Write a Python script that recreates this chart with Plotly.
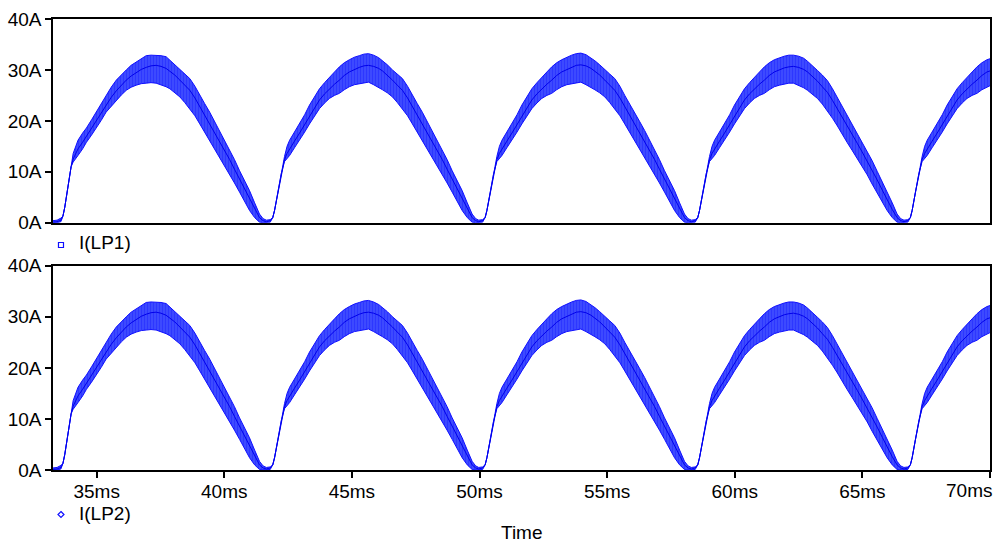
import plotly.graph_objects as go
from plotly.subplots import make_subplots

# ---------------- data ----------------
# time in ms, current envelopes in A (upper / lower edge of the switching ripple band, and mean)
time_c0 = [33.29, 33.45, 33.60, 33.68, 33.75, 33.88, 34.00, 34.08, 34.17, 34.27, 34.45, 34.60, 34.80, 34.98,
           35.18, 35.37, 35.57, 35.77, 35.97, 36.16, 36.35, 36.55, 36.75, 36.94, 37.13, 37.33, 37.52, 37.72,
           37.87, 38.06, 38.26, 38.45, 38.65, 38.85, 39.04, 39.23, 39.43, 39.62, 39.82, 40.01, 40.21, 40.40,
           40.60, 40.80, 40.99, 41.19, 41.38, 41.52]
upper_c0 = [0.4, 0.5, 0.9, 1.3, 3.0, 7.6, 11.0, 13.6, 15.0, 16.2, 17.6, 18.6, 20.2, 21.7, 23.4, 25.0, 26.6,
            28.0, 29.1, 30.0, 30.9, 31.6, 32.3, 32.8, 32.9, 32.9, 32.8, 32.6, 31.9, 31.0, 30.0, 29.2, 28.3,
            26.8, 25.0, 23.4, 21.7, 19.9, 18.1, 16.3, 14.5, 12.4, 10.2, 8.2, 6.3, 3.9, 1.7, 0.8]
lower_c0 = [0.0, 0.0, 0.2, 1.3, 3.0, 7.6, 11.0, 11.9, 12.6, 13.2, 14.5, 15.8, 17.2, 18.5, 20.1, 21.7, 22.9,
            24.0, 25.1, 26.0, 26.6, 27.0, 27.3, 27.4, 27.5, 27.4, 27.1, 26.7, 26.3, 25.5, 24.7, 23.6, 22.4,
            21.0, 19.4, 17.8, 16.2, 14.6, 12.9, 11.3, 9.6, 7.8, 6.0, 4.1, 2.4, 1.0, 0.1, 0.0]
mean_c0 = [0.1, 0.2, 0.5, 1.3, 3.0, 7.6, 11.0, 12.5, 13.6, 14.5, 15.8, 17.0, 18.5, 19.9, 21.6, 23.2, 24.6,
           25.9, 27.0, 28.0, 28.8, 29.5, 30.1, 30.5, 30.8, 30.9, 30.7, 30.3, 29.8, 29.0, 28.0, 27.0, 26.0,
           24.5, 22.8, 21.2, 19.5, 17.8, 16.0, 14.2, 12.4, 10.5, 8.5, 6.5, 4.6, 2.6, 1.0, 0.4]

time_c1 = [41.65, 41.80, 41.90, 41.97, 42.10, 42.23, 42.36, 42.46, 42.56, 42.75, 42.95, 43.15, 43.34, 43.54,
           43.73, 43.93, 44.12, 44.32, 44.51, 44.70, 44.90, 45.10, 45.29, 45.47, 45.65, 45.85, 46.05, 46.20,
           46.39, 46.59, 46.78, 46.98, 47.18, 47.37, 47.56, 47.76, 47.95, 48.15, 48.34, 48.54, 48.73, 48.93,
           49.13, 49.32, 49.52, 49.71, 49.85]
upper_c1 = [0.5, 0.6, 1.0, 2.4, 6.0, 9.6, 13.0, 15.0, 16.2, 17.8, 19.4, 21.2, 23.1, 24.7, 26.3, 27.5, 28.6,
            29.6, 30.6, 31.4, 32.0, 32.5, 32.8, 33.1, 33.2, 32.9, 32.4, 31.8, 31.0, 30.0, 29.2, 28.3, 26.8,
            25.0, 23.4, 21.7, 19.9, 18.1, 16.3, 14.5, 12.4, 10.2, 8.2, 6.3, 3.9, 1.7, 0.8]
lower_c1 = [0.0, 0.1, 1.0, 2.4, 6.0, 9.6, 12.0, 12.6, 13.2, 14.7, 16.2, 17.8, 19.4, 20.9, 22.4, 23.5, 24.4,
            25.0, 25.4, 26.1, 26.7, 27.1, 27.3, 27.5, 27.6, 27.1, 26.6, 26.1, 25.5, 24.7, 23.6, 22.4, 21.0,
            19.4, 17.8, 16.2, 14.6, 12.9, 11.3, 9.6, 7.8, 6.0, 4.1, 2.4, 1.0, 0.1, 0.0]
mean_c1 = [0.2, 0.4, 1.0, 2.4, 6.0, 9.6, 12.4, 13.6, 14.5, 16.0, 17.6, 19.3, 21.0, 22.6, 24.1, 25.3, 26.3,
           27.2, 28.0, 28.9, 29.6, 30.1, 30.5, 30.8, 30.9, 30.7, 30.3, 29.8, 29.0, 28.0, 27.0, 26.0, 24.5,
           22.8, 21.2, 19.5, 17.8, 16.0, 14.2, 12.4, 10.5, 8.5, 6.5, 4.6, 2.6, 1.0, 0.4]

time_c2 = [49.97, 50.12, 50.22, 50.29, 50.42, 50.55, 50.68, 50.78, 50.88, 51.07, 51.27, 51.47, 51.66, 51.86,
           52.05, 52.25, 52.44, 52.64, 52.83, 53.02, 53.22, 53.42, 53.61, 53.79, 53.97, 54.17, 54.37, 54.52,
           54.71, 54.91, 55.10, 55.30, 55.50, 55.69, 55.88, 56.08, 56.27, 56.47, 56.66, 56.86, 57.05, 57.25,
           57.45, 57.64, 57.84, 58.03, 58.17]
upper_c2 = [0.5, 0.6, 1.0, 2.4, 6.0, 9.6, 13.0, 15.0, 16.2, 17.8, 19.4, 21.2, 23.1, 24.7, 26.3, 27.5, 28.6,
            29.6, 30.6, 31.4, 32.0, 32.5, 32.9, 33.2, 33.3, 33.0, 32.4, 31.8, 31.0, 30.0, 29.2, 28.3, 26.8,
            25.0, 23.4, 21.7, 19.9, 18.1, 16.3, 14.5, 12.4, 10.2, 8.2, 6.3, 3.9, 1.7, 0.8]
lower_c2 = [0.0, 0.1, 1.0, 2.4, 6.0, 9.6, 12.0, 12.6, 13.2, 14.7, 16.2, 17.8, 19.4, 20.9, 22.4, 23.5, 24.4,
            25.0, 25.4, 26.1, 26.7, 27.1, 27.3, 27.5, 27.6, 27.1, 26.6, 26.1, 25.5, 24.7, 23.6, 22.4, 21.0,
            19.4, 17.8, 16.2, 14.6, 12.9, 11.3, 9.6, 7.8, 6.0, 4.1, 2.4, 1.0, 0.1, 0.0]
mean_c2 = [0.2, 0.4, 1.0, 2.4, 6.0, 9.6, 12.4, 13.6, 14.5, 16.0, 17.6, 19.3, 21.0, 22.6, 24.1, 25.3, 26.3,
           27.2, 28.0, 28.9, 29.6, 30.1, 30.6, 30.9, 31.0, 30.8, 30.3, 29.8, 29.0, 28.0, 27.0, 26.0, 24.5,
           22.8, 21.2, 19.5, 17.8, 16.0, 14.2, 12.4, 10.5, 8.5, 6.5, 4.6, 2.6, 1.0, 0.4]

time_c3 = [58.30, 58.45, 58.55, 58.62, 58.75, 58.88, 59.01, 59.11, 59.21, 59.40, 59.60, 59.80, 59.99, 60.19,
           60.38, 60.58, 60.77, 60.97, 61.16, 61.35, 61.55, 61.75, 61.94, 62.12, 62.30, 62.50, 62.70, 62.85,
           63.04, 63.24, 63.43, 63.63, 63.83, 64.02, 64.21, 64.41, 64.60, 64.80, 64.99, 65.19, 65.38, 65.58,
           65.78, 65.97, 66.17, 66.36, 66.50]
upper_c3 = [0.5, 0.6, 1.0, 2.4, 6.0, 9.6, 13.0, 15.0, 16.2, 17.8, 19.4, 21.2, 23.1, 24.7, 26.3, 27.5, 28.6,
            29.6, 30.6, 31.4, 32.0, 32.4, 32.7, 32.9, 32.9, 32.7, 32.3, 31.7, 30.9, 29.9, 29.0, 27.9, 26.3,
            24.6, 22.8, 21.1, 19.3, 17.6, 15.9, 14.2, 12.2, 10.1, 8.1, 6.2, 3.9, 1.7, 0.8]
lower_c3 = [0.0, 0.1, 1.0, 2.4, 6.0, 9.6, 12.0, 12.6, 13.2, 14.7, 16.2, 17.8, 19.4, 20.9, 22.4, 23.5, 24.4,
            25.0, 25.4, 26.1, 26.7, 27.0, 27.2, 27.4, 27.4, 27.0, 26.5, 26.0, 25.3, 24.4, 23.3, 22.0, 20.5,
            19.0, 17.3, 15.7, 14.2, 12.6, 11.0, 9.4, 7.6, 5.9, 4.0, 2.4, 1.0, 0.1, 0.0]
mean_c3 = [0.2, 0.4, 1.0, 2.4, 6.0, 9.6, 12.4, 13.6, 14.5, 16.0, 17.6, 19.3, 21.0, 22.6, 24.1, 25.3, 26.3,
           27.2, 28.0, 28.9, 29.6, 30.0, 30.4, 30.6, 30.7, 30.5, 30.1, 29.6, 28.8, 27.8, 26.7, 25.6, 24.0,
           22.4, 20.7, 19.0, 17.3, 15.6, 13.9, 12.1, 10.3, 8.4, 6.4, 4.5, 2.6, 1.0, 0.4]

time_c4 = [66.63, 66.78, 66.88, 66.95, 67.08, 67.21, 67.34, 67.44, 67.54, 67.73, 67.93, 68.13, 68.32, 68.52,
           68.71, 68.91, 69.10, 69.30, 69.49, 69.68, 69.88, 70.00]
upper_c4 = [0.5, 0.6, 1.0, 2.4, 6.0, 9.6, 13.0, 15.0, 16.2, 17.8, 19.4, 21.2, 23.1, 24.7, 26.3, 27.5, 28.6,
            29.6, 30.6, 31.4, 32.0, 32.2]
lower_c4 = [0.0, 0.1, 1.0, 2.4, 6.0, 9.6, 12.0, 12.6, 13.2, 14.7, 16.2, 17.8, 19.4, 20.9, 22.4, 23.5, 24.4,
            25.0, 25.4, 26.1, 26.7, 26.9]
mean_c4 = [0.2, 0.4, 1.0, 2.4, 6.0, 9.6, 12.4, 13.6, 14.5, 16.0, 17.6, 19.3, 21.0, 22.6, 24.1, 25.3, 26.3,
           27.2, 28.0, 28.9, 29.6, 29.8]

x_tick_vals = [35, 40, 45, 50, 55, 60, 65, 70]
x_tick_text = ["35ms", "40ms", "45ms", "50ms", "55ms", "60ms", "65ms", "70ms"]
y_tick_vals = [0, 10, 20, 30, 40]
y_tick_text = ["0A", "10A", "20A", "30A", "40A"]
series_names = ["I(LP1)", "I(LP2)"]
x_title = "Time"

# ---------------- assemble ----------------
time_ms = time_c0 + time_c1 + time_c2 + time_c3 + time_c4
upper = upper_c0 + upper_c1 + upper_c2 + upper_c3 + upper_c4
lower = lower_c0 + lower_c1 + lower_c2 + lower_c3 + lower_c4
mean = mean_c0 + mean_c1 + mean_c2 + mean_c3 + mean_c4

BLUE = "rgb(15,15,255)"
FONT = "Arial, Liberation Sans, sans-serif"
FS = 19

fig = make_subplots(rows=2, cols=1, shared_xaxes=False, vertical_spacing=0.0)

for row in (1, 2):
    fig.add_trace(go.Scatter(x=time_ms, y=lower, mode="lines",
                             line=dict(color=BLUE, width=1), showlegend=False, hoverinfo="skip"),
                  row=row, col=1)
    fig.add_trace(go.Scatter(x=time_ms, y=upper, mode="lines", fill="tonexty",
                             fillcolor="rgb(30,40,255)",
                             fillpattern=dict(shape="|", size=3, solidity=0.7,
                                              fgcolor="rgb(10,15,255)", bgcolor="rgb(80,95,255)"),
                             line=dict(color=BLUE, width=1), showlegend=False, name=series_names[row - 1]),
                  row=row, col=1)
    fig.add_trace(go.Scatter(x=time_ms, y=mean, mode="lines",
                             line=dict(color="rgb(0,0,235)", width=1), showlegend=False, hoverinfo="skip"),
                  row=row, col=1)

H = 451.0
top_bottom = (470 - 222.7) / H
bot_top = (470 - 265.7) / H

axis_common = dict(showgrid=False, zeroline=False, showline=True, linecolor="black", linewidth=1.5,
                   mirror=True)

# last tick label is drawn shifted left (as in the reference) so it stays inside the page
x_tick_text_axis = x_tick_text[:-1] + [""]

fig.update_layout(
    width=997, height=542,
    margin=dict(l=53, r=5, t=19, b=72),
    paper_bgcolor="white", plot_bgcolor="white",
    font=dict(family=FONT, size=FS, color="black"),
    showlegend=False,
    xaxis=dict(domain=[0, 1], range=[33.29, 70], ticks="", showticklabels=False, **axis_common),
    yaxis=dict(domain=[top_bottom, 1], range=[0, 40], tickvals=y_tick_vals, ticktext=y_tick_text,
               ticks="outside", ticklen=6, tickwidth=1.5, tickcolor="black", **axis_common),
    xaxis2=dict(domain=[0, 1], range=[33.29, 70], tickvals=x_tick_vals, ticktext=x_tick_text_axis,
                ticks="outside", ticklen=6, tickwidth=1.5, tickcolor="black", ticklabelstandoff=-3,
                **axis_common),
    yaxis2=dict(domain=[0, bot_top], range=[0, 40], tickvals=y_tick_vals, ticktext=y_tick_text,
                ticks="outside", ticklen=6, tickwidth=1.5, tickcolor="black", **axis_common),
)

def px_x(p):
    return (p - 53) / 939.0

def px_y(p):
    return (470 - p) / H

fig.add_annotation(x=px_x(971), y=px_y(490), xref="paper", yref="paper", text=x_tick_text[-1],
                   showarrow=False, xanchor="center", yanchor="middle", font=dict(size=FS))

# legend-style labels below each panel
fig.add_annotation(x=px_x(77), y=px_y(242.5), xref="paper", yref="paper", text=series_names[0],
                   showarrow=False, xanchor="left", yanchor="middle", font=dict(size=FS))
fig.add_annotation(x=px_x(77), y=px_y(513), xref="paper", yref="paper", text=series_names[1],
                   showarrow=False, xanchor="left", yanchor="middle", font=dict(size=FS))
fig.add_shape(type="rect", xref="paper", yref="paper", xsizemode="pixel", ysizemode="pixel",
              xanchor=px_x(61), yanchor=px_y(245), x0=-2.5, x1=2.5, y0=-2.5, y1=2.5,
              line=dict(color=BLUE, width=1.2), fillcolor="rgba(0,0,0,0)")
fig.add_shape(type="path", xref="paper", yref="paper", xsizemode="pixel", ysizemode="pixel",
              xanchor=px_x(61), yanchor=px_y(514.5), path="M 0,3 L 3,0 L 0,-3 L -3,0 Z",
              line=dict(color=BLUE, width=1.2), fillcolor="rgba(0,0,0,0)")
fig.add_annotation(x=px_x(523), y=px_y(532), xref="paper", yref="paper", text=x_title,
                   showarrow=False, xanchor="center", yanchor="middle", font=dict(size=FS))

fig.write_html("out.html")
